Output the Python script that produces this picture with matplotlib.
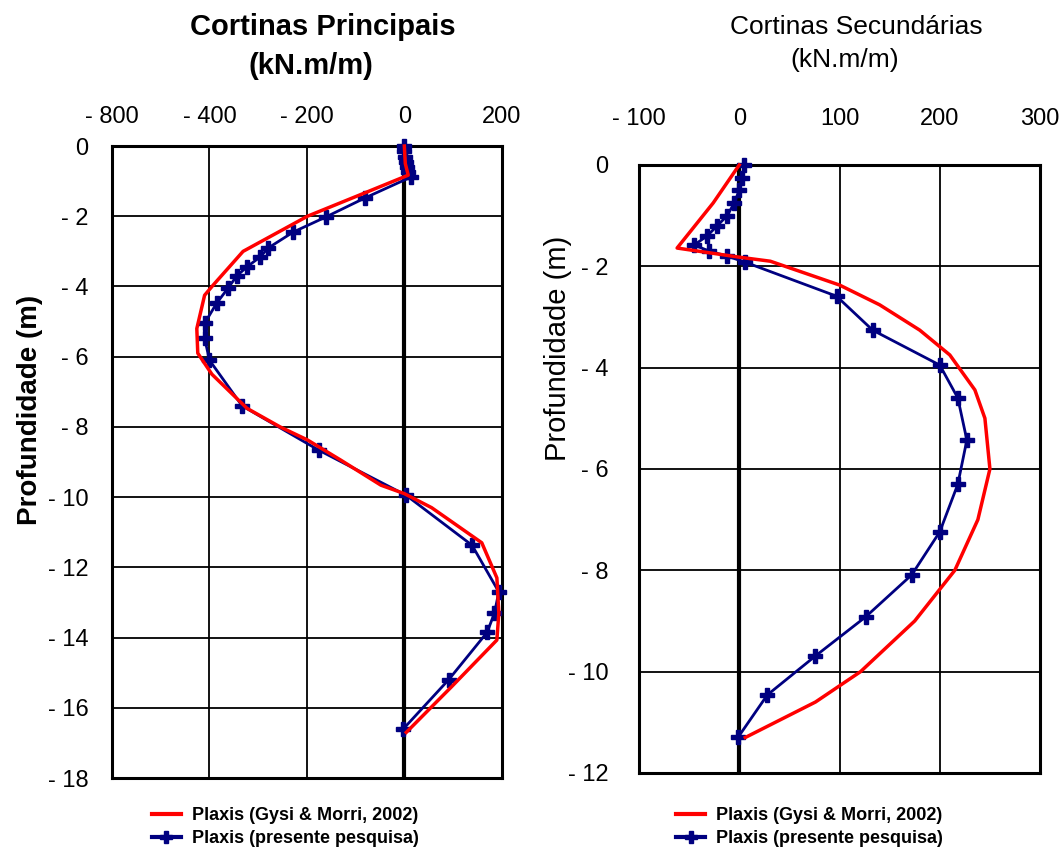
import matplotlib
matplotlib.use("Agg")
import matplotlib.pyplot as plt
from matplotlib.lines import Line2D

plt.rcParams['font.family'] = ['Liberation Sans', 'DejaVu Sans']

# Cortinas Principais (kN.m/m) x depth (m)
prin_ref_x = [0, 2, 8, -75, -199, -331, -393, -410, -426, -424, -395, -323, -255, -199,
              -130, -48, 0, 56, 159, 190, 194, 190, 97, 4]
prin_ref_y = [0, -0.5, -0.83, -1.3, -2.0, -3.0, -3.97, -4.25, -5.2, -5.9, -6.5, -7.47, -8.0, -8.37,
              -8.95, -9.66, -9.9, -10.3, -11.3, -12.3, -13.3, -14.07, -15.4, -16.7]
prin_new_x = [0, 0, 2, 3, 5, 8, 14, -81, -161, -228, -279, -296, -323, -344, -362, -385,
              -410, -410, -400, -333, -176, 4, 139, 194, 185, 170, 91, -2]
prin_new_y = [0, -0.15, -0.3, -0.45, -0.6, -0.75, -0.88, -1.48, -2.02, -2.45, -2.9, -3.16, -3.44,
              -3.7, -4.05, -4.47, -5.05, -5.47, -6.1, -7.4, -8.66, -9.95, -11.37, -12.7, -13.3,
              -13.85, -15.2, -16.6]

# Cortinas Secundarias
sec_ref_x = [0, -26, -62, 0, 31, 100, 140, 180, 210, 235, 245, 250, 238, 215, 175, 121, 76, 31, 6]
sec_ref_y = [0, -0.75, -1.64, -1.82, -1.9, -2.37, -2.76, -3.26, -3.75, -4.44, -5.0, -6.0, -7.0,
             -8.0, -9.0, -10.0, -10.6, -11.05, -11.3]
sec_new_x = [5, 3, 0, -5, -12, -22, -32, -45, -30, -12, 6, 97, 133, 200, 218, 227, 218, 200,
             172, 126, 76, 28, -1]
sec_new_y = [0, -0.25, -0.5, -0.75, -1.0, -1.2, -1.4, -1.58, -1.7, -1.8, -1.92, -2.59, -3.26,
             -3.95, -4.6, -5.43, -6.3, -7.24, -8.09, -8.92, -9.69, -10.46, -11.29]

prin_xticks = [-600, -400, -200, 0, 200]
prin_xlabels = ['- 800', '- 400', '- 200', '0', '200']
prin_yticks = [0, -2, -4, -6, -8, -10, -12, -14, -16, -18]
sec_xticks = [-100, 0, 100, 200, 300]
sec_xlabels = ['- 100', '0', '100', '200', '300']
sec_yticks = [0, -2, -4, -6, -8, -10, -12]

lbl_ref = 'Plaxis (Gysi & Morri, 2002)'
lbl_new = 'Plaxis (presente pesquisa)'

RED = '#FF0000'
NAVY = '#000080'

fig = plt.figure(figsize=(10.59, 8.56), dpi=100)
ax1 = fig.add_axes([0.1058, 0.0911, 0.368, 0.7383])
ax2 = fig.add_axes([0.6034, 0.0970, 0.3787, 0.7103])


def style(ax, xticks, xlabels, yticks, xlim, ylim):
    ax.set_xlim(*xlim)
    ax.set_ylim(*ylim)
    ax.set_xticks(xticks)
    ax.set_xticklabels(xlabels)
    ax.set_yticks(yticks)
    ax.set_yticklabels(['0' if v == 0 else '- %d' % abs(v) for v in yticks])
    ax.xaxis.tick_top()
    ax.tick_params(length=0, labelsize=17, pad=13)
    ax.tick_params(axis='y', pad=17)
    ax.grid(True, color='black', lw=1.3)
    ax.set_axisbelow(True)
    for s in ax.spines.values():
        s.set_linewidth(2.2)
    ax.axvline(0, color='black', lw=3, zorder=1.5)


style(ax1, prin_xticks, prin_xlabels, prin_yticks, (-600, 200), (-18, 0))
style(ax2, sec_xticks, sec_xlabels, sec_yticks, (-100, 300), (-12, 0))
ax2.tick_params(axis='x', pad=25)
ax2.tick_params(axis='y', pad=22)

for ax, rx, ry, nx, ny in [(ax1, prin_ref_x, prin_ref_y, prin_new_x, prin_new_y),
                           (ax2, sec_ref_x, sec_ref_y, sec_new_x, sec_new_y)]:
    ax.plot(nx, ny, color=NAVY, lw=2, marker='P', ms=10, mec=NAVY, zorder=3, clip_on=False)
    ax.plot(rx, ry, color=RED, lw=2.5, zorder=4, clip_on=False)

fig.text(0.305, 0.968, 'Cortinas Principais', ha='center', va='center',
         fontsize=21, fontweight='bold')
fig.text(0.294, 0.923, '(kN.m/m)', ha='center', va='center', fontsize=21, fontweight='bold')
fig.text(0.809, 0.968, 'Cortinas Secundárias', ha='center', va='center', fontsize=19)
fig.text(0.798, 0.930, '(kN.m/m)', ha='center', va='center', fontsize=19)

fig.text(0.028, 0.521, 'Profundidade (m)', rotation=90, ha='center', va='center',
         fontsize=20, fontweight='bold')
fig.text(0.527, 0.593, 'Profundidade (m)', rotation=90, ha='center', va='center', fontsize=21)

handles = [Line2D([], [], color=RED, lw=3),
           Line2D([], [], color=NAVY, lw=3, marker='P', ms=9)]
for x0 in (0.135, 0.630):
    fig.legend(handles, [lbl_ref, lbl_new], loc='upper left', bbox_to_anchor=(x0, 0.068),
               frameon=False, handlelength=1.6, handletextpad=0.6,
               labelspacing=0.35, borderpad=0, prop={'weight': 'bold', 'size': 13})

fig.savefig('out.png', dpi=100)
